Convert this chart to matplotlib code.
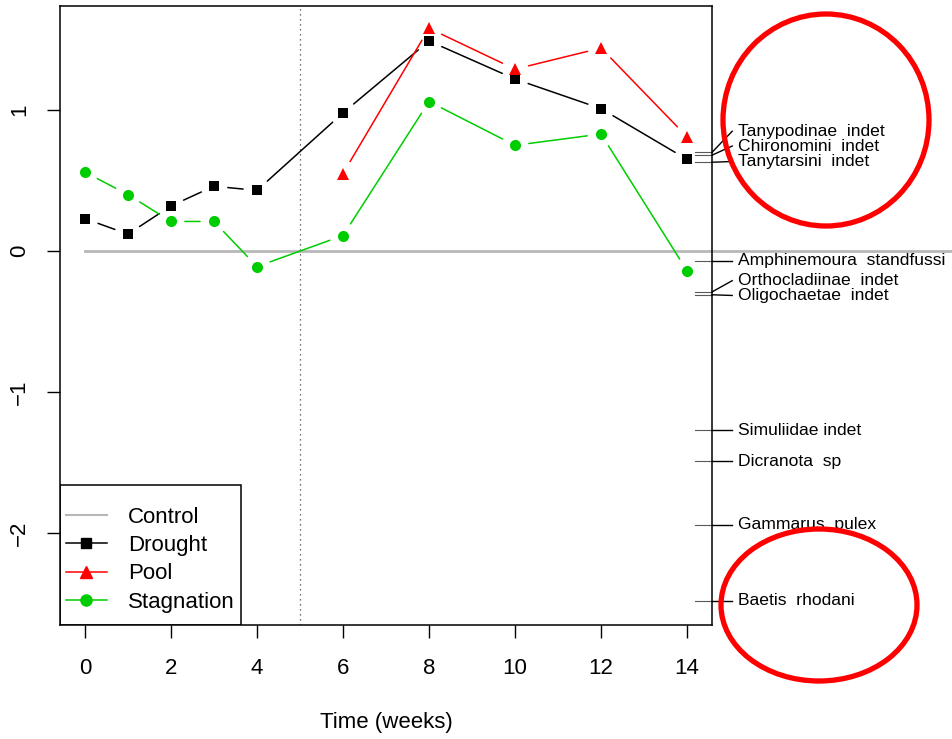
import matplotlib
matplotlib.use("Agg")
import matplotlib.pyplot as plt
from matplotlib.patches import Ellipse, Rectangle
import matplotlib.transforms as mtransforms

plt.rcParams['font.family'] = ['Liberation Sans', 'DejaVu Sans']

# --- Data ---
weeks = [0, 1, 2, 3, 4, 6, 8, 10, 12, 14]
drought = [0.23, 0.12, 0.32, 0.46, 0.43, 0.98, 1.49, 1.22, 1.01, 0.65]
pool_weeks = [6, 8, 10, 12, 14]
pool = [0.55, 1.58, 1.29, 1.44, 0.81]
stagnation = [0.56, 0.40, 0.21, 0.21, -0.11, 0.11, 1.06, 0.75, 0.83, -0.14]

species = ["Tanypodinae  indet", "Chironomini  indet", "Tanytarsini  indet",
           "Amphinemoura  standfussi", "Orthocladiinae  indet", "Oligochaetae  indet",
           "Simuliidae indet", "Dicranota  sp", "Gammarus  pulex", "Baetis  rhodani"]
species_score = [0.70, 0.68, 0.63, -0.07, -0.29, -0.31, -1.27, -1.49, -1.94, -2.48]
label_y = [0.85, 0.745, 0.635, -0.07, -0.21, -0.315, -1.27, -1.49, -1.94, -2.48]

GREEN = "#00CD00"
RED = "#FF0000"


def gapped(ax, x, y, color, marker, ms):
    # R type="b": lines stop short of each point
    for i in range(len(x) - 1):
        ax.annotate("", xy=(x[i + 1], y[i + 1]), xytext=(x[i], y[i]),
                    arrowprops=dict(arrowstyle="-", color=color, lw=1.1,
                                    shrinkA=10, shrinkB=10))
    ax.plot(x, y, linestyle="none", marker=marker, color=color, ms=ms,
            markeredgewidth=0)


fig = plt.figure(figsize=(9.53, 7.39), dpi=100)
ax = fig.add_axes([60 / 953, 1 - 625 / 739, 652 / 953, 619 / 739])
ax.set_xlim(-0.58, 14.58)
ax.set_ylim(-2.652, 1.738)

# control reference line (runs out across the species margin)
ax.plot([0, 30], [0, 0], color="0.72", lw=2, clip_on=False, zorder=1)
ax.axvline(5, color="0.25", lw=0.9, linestyle=(0, (1, 3)))

gapped(ax, weeks, drought, "black", "s", 7.5)
gapped(ax, pool_weeks, pool, RED, "^", 9)
gapped(ax, weeks, stagnation, GREEN, "o", 8)

# species scores on the right
tr = mtransforms.blended_transform_factory(ax.transAxes, ax.transData)
for name, s, ly in zip(species, species_score, label_y):
    ax.plot([0.974, 1.0], [s, s], color="0.35", lw=0.8, transform=tr, clip_on=False)
    ax.plot([1.0, 1.031], [s, ly], color="black", lw=1.0, transform=tr, clip_on=False)
    ax.text(1.040, ly, name, transform=tr, fontsize=12.6, va="center", ha="left")

ax.set_xticks(range(0, 15, 2))
ax.set_yticks([-2, -1, 0, 1])
ax.tick_params(length=9.5, width=1, labelsize=16, pad=14)
ax.tick_params(axis="y", pad=12)
for lab in ax.get_yticklabels():
    lab.set_rotation(90)
    lab.set_va("center")
for sp in ax.spines.values():
    sp.set_linewidth(1.1)
ax.set_xlabel("Time (weeks)", fontsize=16, labelpad=24)

# legend
handles = [
    plt.Line2D([], [], color="0.72", lw=1.5),
    plt.Line2D([], [], color="black", lw=1.1, marker="s", ms=7.5),
    plt.Line2D([], [], color=RED, lw=1.1, marker="^", ms=9),
    plt.Line2D([], [], color=GREEN, lw=1.1, marker="o", ms=8),
]
ax.legend(handles, ["Control", "Drought", "Pool", "Stagnation"],
          loc="lower left", bbox_to_anchor=(0.009, 0.02), frameon=False,
          fontsize=16, borderpad=0, borderaxespad=0, handlelength=1.85,
          handletextpad=0.95, labelspacing=0.33)
ax.add_patch(Rectangle((0, 0), 181 / 652, 140 / 619, transform=ax.transAxes,
                       fill=False, edgecolor="black", lw=1.1, zorder=5))

# red highlight circles
fig.patches.append(Ellipse((826 / 953, 1 - 120 / 739), 206 / 953, 212 / 739,
                           transform=fig.transFigure, fill=False,
                           edgecolor=RED, lw=3.8))
fig.patches.append(Ellipse((819 / 953, 1 - 605 / 739), 196 / 953, 152 / 739,
                           transform=fig.transFigure, fill=False,
                           edgecolor=RED, lw=3.8))

fig.savefig("out.png", dpi=100)
